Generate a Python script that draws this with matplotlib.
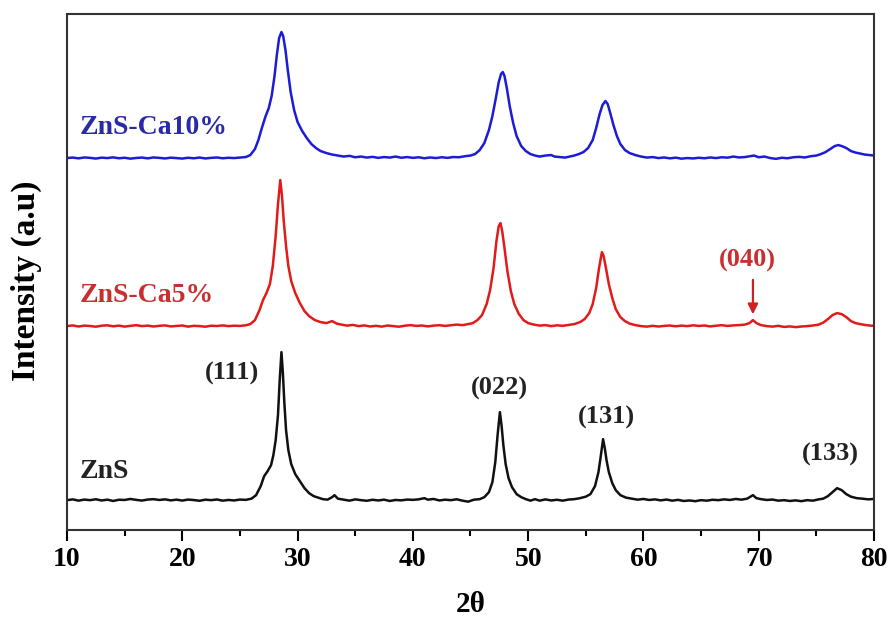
import numpy as np
import matplotlib
matplotlib.use("Agg")
from matplotlib import pyplot as plt
from matplotlib.ticker import MultipleLocator

plt.rcParams['font.family'] = ['Liberation Serif', 'DejaVu Serif']
plt.rcParams['font.weight'] = 'bold'

# Patrones DRX (2theta, intensidad relativa a la linea base)
zns_x = [10, 10.5, 11, 11.5, 12, 12.5, 13, 13.5, 14, 14.5, 15, 15.5, 16, 16.5, 17, 17.5, 18, 18.5,
         19, 19.5, 20, 20.5, 21, 21.5, 22, 22.5, 23, 23.5, 24, 24.5, 25, 25.5, 26, 26.4, 26.8,
         27.1, 27.4, 27.7, 27.9, 28.1, 28.3, 28.45, 28.6, 28.72, 28.85, 29.0, 29.2, 29.45, 29.8,
         30.2, 30.6, 31.0, 31.4, 31.8, 32.2, 32.6, 33.0, 33.2, 33.5, 34, 34.5, 35, 35.5, 36, 36.5,
         37, 37.5, 38, 38.5, 39, 39.5, 40, 40.5, 41, 41.3, 41.8, 42.3, 42.8, 43.3, 43.8, 44.3,
         44.8, 45.3, 45.8, 46.2, 46.6, 46.9, 47.15, 47.35, 47.55, 47.7, 47.85, 48.05, 48.3, 48.6,
         49.0, 49.4, 49.8, 50.2, 50.6, 51, 51.5, 52, 52.5, 53, 53.5, 54, 54.5, 55, 55.4, 55.8,
         56.1, 56.3, 56.5, 56.65, 56.8, 57.0, 57.3, 57.6, 58.0, 58.5, 59, 59.5, 60, 60.5, 61,
         61.5, 62, 62.5, 63, 63.5, 64, 64.5, 65, 65.5, 66, 66.5, 67, 67.5, 68, 68.5, 69, 69.5,
         69.8, 70.2, 70.7, 71.2, 71.7, 72.2, 72.7, 73.2, 73.7, 74.2, 74.7, 75.2, 75.6, 76.0, 76.4,
         76.8, 77.2, 77.6, 78.0, 78.5, 79, 79.5, 80]
zns_y = [0, 0.8, -0.5, 0.6, 0, 0.9, -0.3, 0.5, -0.8, 0.4, 0.2, 1.2, 0.3, -0.4, 0.6, 1.0, 0.2, 0.8,
         -0.2, 0.5, -0.4, 0.6, 0.1, -0.6, 0.5, 0, 0.7, -0.5, 0.2, -0.3, 0.6, 0.3, 1.5, 5, 14,
         24, 29, 35, 45, 60, 85, 120, 148, 128, 98, 70, 50, 36, 26,
         19, 12, 7, 4, 2.5, 1, 0.5, 3, 5, 1.5, 0.5, -0.5, 0.8, 0, -0.6, 0.4,
         -0.3, 0.5, -0.8, 0.2, -0.2, 0.6, 0.3, 0.8, 2.0, 0.5, 1.2, -0.3, 0.5, 0, 0.9, -0.5,
         -1.5, 0.5, 1.0, 3, 8, 18, 38, 65, 88, 74, 55, 36, 22, 13,
         6, 3, 1, -0.5, 1, -0.5, 0.8, -0.3, 0.4, -0.5, 0.6, 1, 2, 3.5, 6, 14,
         28, 44, 61, 52, 40, 28, 17, 10, 5, 2.5, 1.5, 0.5, 1.2, 0.2, 0.8,
         -0.2, 0.6, -0.5, 0.3, -0.8, -0.3, -1, 0, -0.5, 0.4, 0, 0.8, 0.2, 1.2, 0.5, 1.5, 5,
         2, 1, 0.2, 0.6, -0.5, 0, -0.8, -0.2, -1, 0, -0.5, 0.8, 1.5, 4, 8,
         12, 10, 6, 3.5, 2, 1.5, 0.8, 1.2]

ca5_x = [10, 10.5, 11, 11.5, 12, 12.5, 13, 13.5, 14, 14.5, 15, 15.5, 16, 16.5, 17, 17.5, 18, 18.5,
         19, 19.5, 20, 20.5, 21, 21.5, 22, 22.5, 23, 23.5, 24, 24.5, 25, 25.5, 25.9, 26.3, 26.7,
         27.0, 27.3, 27.6, 27.85, 28.1, 28.3, 28.5, 28.65, 28.8, 29.0, 29.2, 29.45, 29.8, 30.2,
         30.6, 31.0, 31.5, 32.0, 32.5, 33.0, 33.4, 33.8, 34.3, 34.8, 35.3, 35.8, 36.3, 36.8, 37.3,
         37.8, 38.3, 38.8, 39.3, 39.8, 40.3, 40.8, 41.3, 41.8, 42.3, 42.8, 43.3, 43.8, 44.3, 44.8,
         45.2, 45.6, 46.0, 46.4, 46.7, 47.0, 47.25, 47.45, 47.6, 47.75, 47.95, 48.2, 48.5, 48.8,
         49.2, 49.6, 50.0, 50.5, 51, 51.5, 52, 52.5, 53, 53.5, 54, 54.5, 54.9, 55.3, 55.6, 55.9,
         56.15, 56.4, 56.55, 56.75, 57.0, 57.3, 57.6, 58.0, 58.4, 58.8, 59.3, 59.8, 60.3, 60.8,
         61.3, 61.8, 62.3, 62.8, 63.3, 63.8, 64.3, 64.8, 65.3, 65.8, 66.3, 66.8, 67.3, 67.8, 68.3,
         68.8, 69.2, 69.5, 69.8, 70.2, 70.7, 71.2, 71.7, 72.2, 72.7, 73.2, 73.7, 74.2, 74.7, 75.2,
         75.6, 76.0, 76.4, 76.8, 77.2, 77.6, 78.0, 78.4, 78.8, 79.3, 79.7, 80]
ca5_y = [0, 0.7, -0.4, 0.5, 0.1, -0.6, 0.4, 0.8, -0.2, 0.5, -0.5, 0.3, 0.9, 0, 0.5, -0.4, 0.3, 0.7,
         -0.3, 0.2, 0.6, -0.5, 0.3, 0, -0.6, 0.4, 0.1, 0.7, 0, 0.4, 0.2, 0.8, 2, 6, 16,
         26, 33, 42, 60, 90, 122, 146, 130, 105, 80, 60, 45, 33, 23,
         15, 10, 6, 4, 3, 5, 2.5, 1.5, 0.5, 1.2, 0, 0.7, -0.4, 0.3, -0.5,
         0.6, 0, -0.6, 0.4, 1, 0.2, 0.6, -0.3, 0.5, 0.9, 0.2, 0.8, 1.5, 1, 2,
         3, 6, 11, 22, 36, 58, 85, 100, 103, 95, 78, 55, 35, 22,
         12, 6, 3, 1.5, 0.5, 1, 0, 0.8, 0.3, 1.2, 2, 4, 7, 13, 22, 38,
         58, 74, 70, 58, 42, 28, 17, 9, 5, 2.5, 1, 0, -0.5, 0.3,
         -0.4, 0.2, 0.6, -0.2, 0.5, 0, 0.8, 0.2, 0.6, -0.3, 0.4, 0.9, 0.2, 0.7, 1,
         1.5, 3, 6, 3, 1, 0, -0.5, 0.3, -0.8, -0.3, -1, -0.4, 0, 0.6, 1.5,
         3.5, 7, 11, 13, 12, 9, 5, 3, 2, 1, 0.5, 0.3]

ca10_x = [10, 10.5, 11, 11.5, 12, 12.5, 13, 13.5, 14, 14.5, 15, 15.5, 16, 16.5, 17, 17.5, 18, 18.5,
          19, 19.5, 20, 20.5, 21, 21.5, 22, 22.5, 23, 23.5, 24, 24.5, 25, 25.5, 25.9, 26.3, 26.6,
          26.9, 27.2, 27.5, 27.75, 28.0, 28.2, 28.4, 28.6, 28.75, 28.95, 29.15, 29.4, 29.7, 30.0,
          30.4, 30.8, 31.2, 31.6, 32.0, 32.5, 33.0, 33.5, 34, 34.5, 35, 35.5, 36, 36.5, 37, 37.5,
          38, 38.5, 39, 39.5, 40, 40.5, 41, 41.5, 42, 42.5, 43, 43.5, 44, 44.5, 45, 45.4, 45.8,
          46.2, 46.6, 46.9, 47.2, 47.45, 47.65, 47.8, 47.95, 48.15, 48.4, 48.7, 49.0, 49.4, 49.8,
          50.2, 50.6, 51, 51.5, 52, 52.3, 52.8, 53.2, 53.6, 54, 54.4, 54.8, 55.2, 55.6, 55.9, 56.2,
          56.45, 56.7, 56.9, 57.1, 57.4, 57.7, 58.0, 58.4, 58.8, 59.3, 59.8, 60.3, 60.8, 61.3,
          61.8, 62.3, 62.8, 63.3, 63.8, 64.3, 64.8, 65.3, 65.8, 66.3, 66.8, 67.3, 67.8, 68.3, 68.8,
          69.3, 69.6, 70, 70.5, 71, 71.5, 72, 72.5, 73, 73.5, 74, 74.5, 75, 75.4, 75.8, 76.2, 76.6,
          76.9, 77.2, 77.6, 78.0, 78.4, 78.8, 79.2, 79.6, 80]
ca10_y = [0, 0.5, -0.3, 0.6, 0.2, -0.5, 0.4, 0, 0.7, -0.2, 0.3, -0.6, 0.1, 0.5, -0.3, 0.6, 0.2, -0.4,
          0.4, 0, -0.5, 0.3, -0.2, 0.5, -0.4, 0.2, 0.6, -0.2, 0.3, 0, 0.5, 1, 3, 9, 18,
          30, 41, 50, 62, 82, 103, 120, 126, 122, 108, 88, 66, 48, 36,
          27, 20, 14, 10, 7, 5, 3.5, 2.5, 1.5, 2.2, 0.8, 1.5, 0.5, 1.2, 0.2, 1,
          0.5, 1.5, 0.3, 1, 0.2, 0.8, -0.2, 0.6, 0, 0.8, 0.2, 1, 0.8, 1.8, 2.5, 4, 8,
          15, 28, 42, 60, 76, 84, 86, 82, 70, 52, 35, 22, 12, 7,
          4, 2.5, 1.5, 2.5, 3, 1.5, 1, 0.5, 1.5, 2.5, 4, 6, 10, 18, 30, 44,
          53, 57, 54, 46, 33, 22, 14, 8, 5, 3, 1.5, 0.5, 1, 0,
          0.6, -0.3, 0.4, -0.6, 0, -0.4, 0.3, -0.2, 0.6, 0, 0.8, 0.4, 1.5, 0.6, 1,
          2, 2.5, 0.8, 1.5, 0, -0.8, 0.3, -0.2, 0.8, 1.2, 0.6, 1.8, 2.5, 4, 6, 9, 12,
          13, 12, 10, 7, 5.5, 4.5, 3.5, 3, 2.5]

offsets = [30, 204, 372]
nombres = ['ZnS', 'ZnS-Ca5%', 'ZnS-Ca10%']
nombres_y = [59, 235, 403]
colores = ['#111111', '#e21a1a', '#1c1cd6']
colores_txt = ['#222222', '#c83030', '#2a2aa8']
planos = ['(111)', '(022)', '(131)', '(133)']
planos_x = [24.3, 47.55, 56.75, 76.2]
planos_y = [157, 142, 113, 76]

fig = plt.figure(figsize=(8.9, 6.23), dpi=100)
ax = fig.add_axes([0.0753, 0.149, 0.9067, 0.8285])

series = [(zns_x, zns_y), (ca5_x, ca5_y), (ca10_x, ca10_y)]
for k in range(3):
    xs, ys = series[k]
    ax.plot(xs, np.array(ys) + offsets[k], color=colores[k], linewidth=1.8)
    ax.text(11.1, nombres_y[k], nombres[k], color=colores_txt[k], fontsize=20,
            fontweight='bold', va='center')

for i in range(len(planos)):
    ax.text(planos_x[i], planos_y[i], planos[i], color='#222222', fontsize=19,
            fontweight='bold', ha='center', va='center')

# pico (040) marcado con flecha
ax.annotate('', xy=(69.5, 213), xytext=(69.5, 253),
            arrowprops=dict(arrowstyle='-|>', color='#d02020', lw=1.6, mutation_scale=15))
ax.text(69.0, 270, '(040)', color='#c83030', fontsize=19, fontweight='bold',
        ha='center', va='center')

ax.set_xlim(10, 80)
ax.set_ylim(0, 516)
ax.set_yticks([])
ax.xaxis.set_major_locator(MultipleLocator(10))
ax.xaxis.set_minor_locator(MultipleLocator(5))
ax.tick_params(axis='x', which='major', direction='out', length=8, width=1.5, labelsize=20, pad=4)
ax.tick_params(axis='x', which='minor', direction='out', length=4, width=1.5)
for sp in ax.spines.values():
    sp.set_linewidth(1.5)
    sp.set_color('#333333')
for lab in ax.get_xticklabels():
    lab.set_fontweight('bold')

ax.set_xlabel('2θ', fontsize=21, fontweight='bold')
ax.xaxis.set_label_coords(0.5, -0.118)
ax.set_ylabel('Intensity (a.u)', fontsize=24, fontweight='bold')
ax.yaxis.set_label_coords(-0.031, 0.483)

fig.savefig('out.png', dpi=100)
